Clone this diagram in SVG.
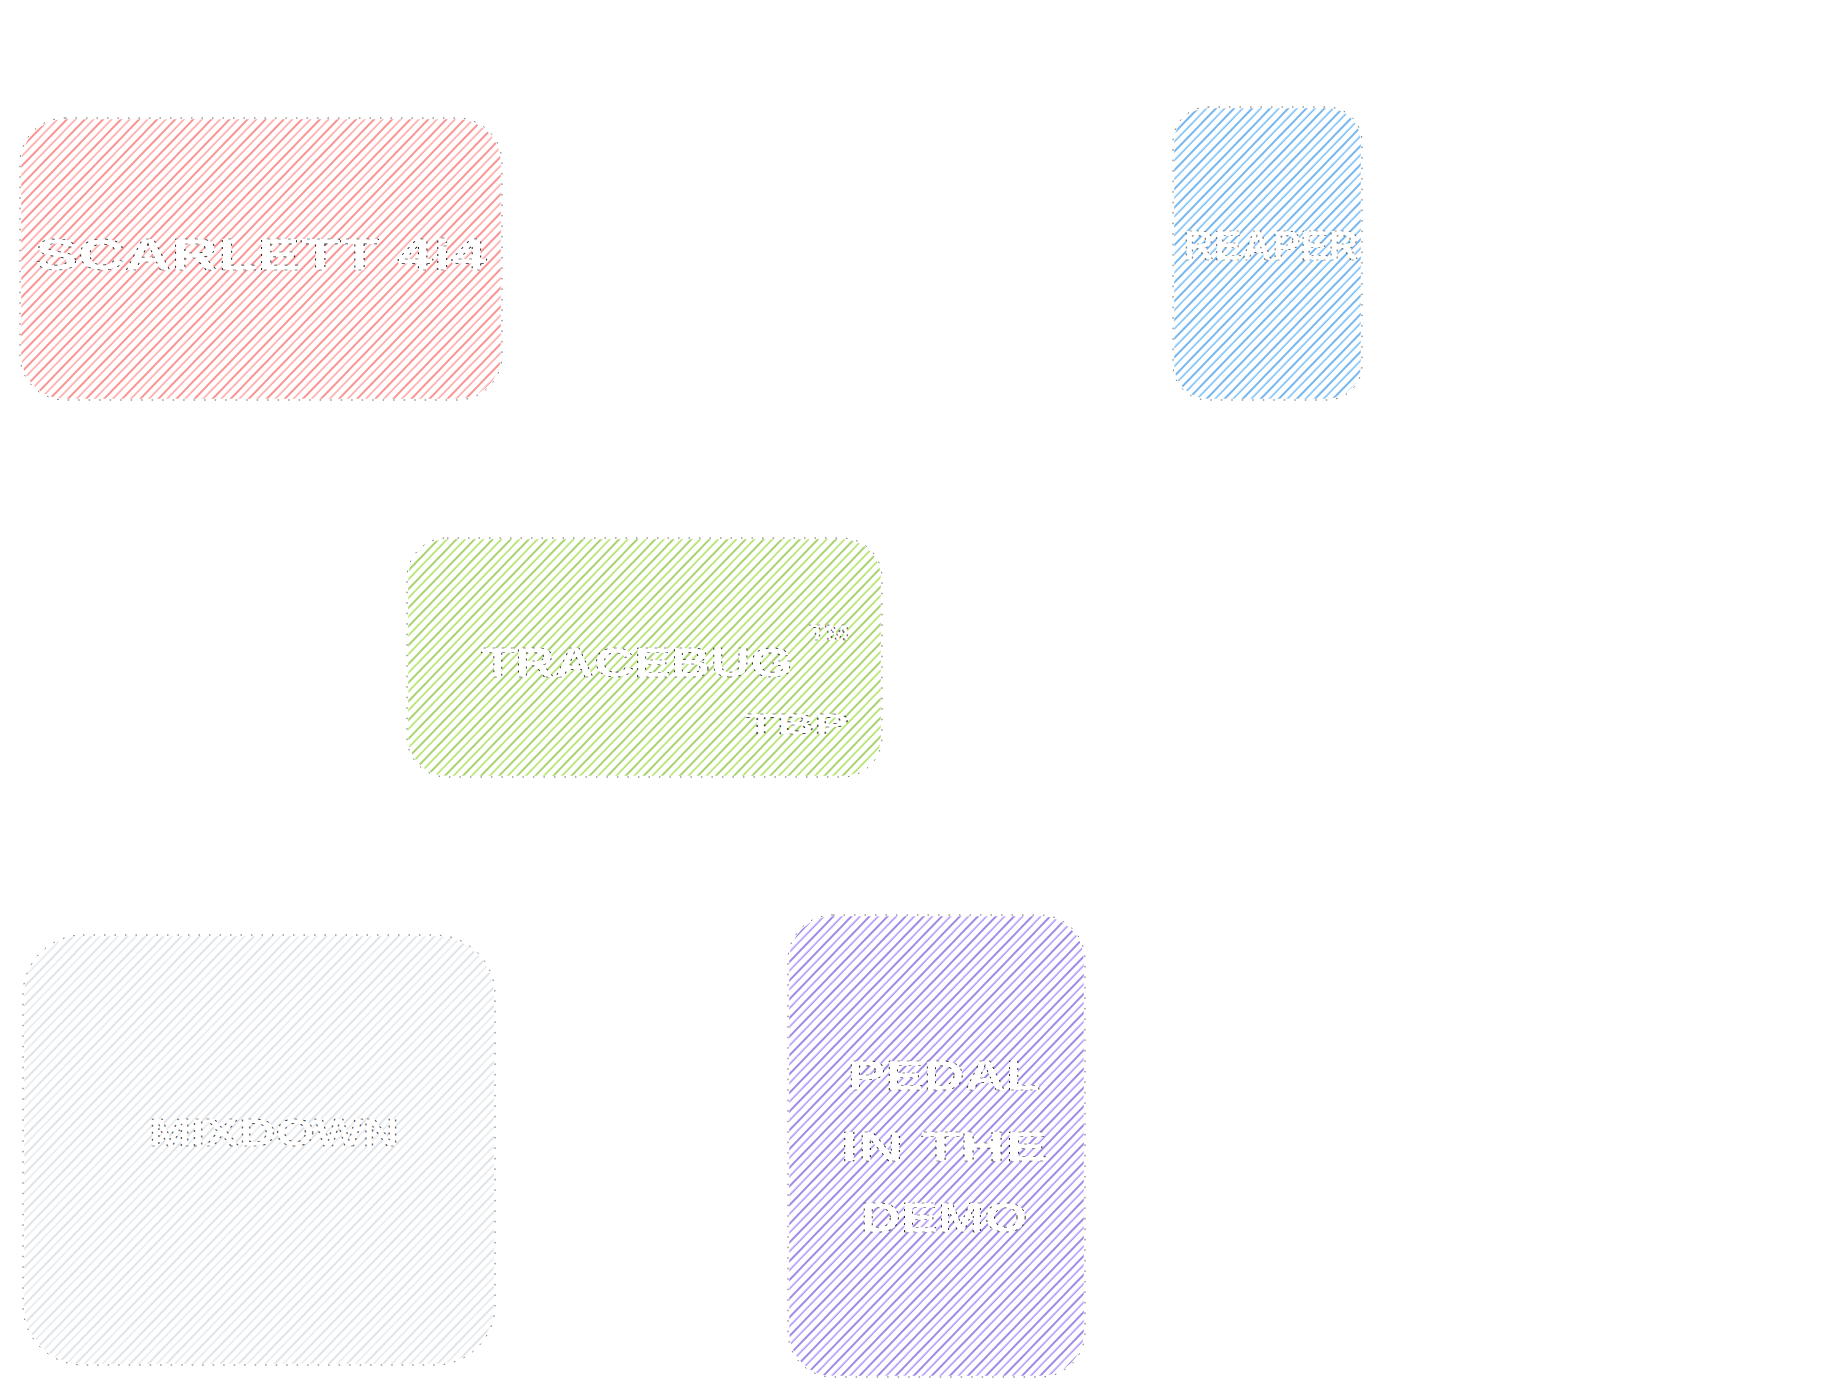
<svg xmlns="http://www.w3.org/2000/svg" width="1838" height="1395" viewBox="0 0 1838 1395">
  <defs>
    <!-- sketch-style hachure: thin strokes in two tones -->
    <pattern id="hatch-red" patternUnits="userSpaceOnUse" width="24" height="13" patternTransform="rotate(-46)">
      <path d="M0 1 H24" stroke="#fa5252" stroke-width="1.25"/>
      <path d="M0 7.2 H24" stroke="#ff8787" stroke-width="1.2"/>
    </pattern>
    <pattern id="hatch-blue" patternUnits="userSpaceOnUse" width="24" height="13" patternTransform="rotate(-46)">
      <path d="M0 1 H24" stroke="#228be6" stroke-width="1.25"/>
      <path d="M0 7.2 H24" stroke="#4dabf7" stroke-width="1.2"/>
    </pattern>
    <pattern id="hatch-green" patternUnits="userSpaceOnUse" width="24" height="13" patternTransform="rotate(-46)">
      <path d="M0 1 H24" stroke="#74b816" stroke-width="1.25"/>
      <path d="M0 7.2 H24" stroke="#94d82d" stroke-width="1.2"/>
    </pattern>
    <pattern id="hatch-gray" patternUnits="userSpaceOnUse" width="24" height="13" patternTransform="rotate(-46)">
      <path d="M0 1 H24" stroke="#ced4da" stroke-width="1.25"/>
      <path d="M0 7.2 H24" stroke="#dee2e6" stroke-width="1.2"/>
    </pattern>
    <pattern id="hatch-violet" patternUnits="userSpaceOnUse" width="24" height="13" patternTransform="rotate(-46)">
      <path d="M0 1 H24" stroke="#6741d9" stroke-width="1.25"/>
      <path d="M0 7.2 H24" stroke="#9775fa" stroke-width="1.2"/>
    </pattern>
  </defs>
  <style>
    .edge { fill: none; stroke: #ffffff; stroke-width: 2.5; }
    .edge-dots { fill: none; stroke: #222; stroke-width: 0.7; stroke-dasharray: 1.5 9; }
    .label { font-family: "Liberation Sans", "DejaVu Sans", sans-serif; font-weight: bold; fill: #ffffff; stroke: #222; stroke-width: 0.7; stroke-dasharray: 2 5; text-anchor: middle; }
  </style>

  <rect width="1838" height="1395" fill="#ffffff"/>

  <g id="connectors"/>

  <g id="node-scarlett">
    <rect x="20" y="118" width="482" height="282" rx="45" fill="url(#hatch-red)"/>
    <rect x="20" y="118" width="482" height="282" rx="45" class="edge"/>
    <rect x="20" y="118" width="482" height="282" rx="45" class="edge-dots"/>
    <text class="label" x="261" y="270" font-size="44" textLength="452" lengthAdjust="spacingAndGlyphs">SCARLETT 4i4</text>
  </g>

  <g id="node-reaper">
    <rect x="1173" y="107" width="189" height="293" rx="35" fill="url(#hatch-blue)"/>
    <rect x="1173" y="107" width="189" height="293" rx="35" class="edge"/>
    <rect x="1173" y="107" width="189" height="293" rx="35" class="edge-dots"/>
    <text class="label" x="1271" y="260" font-size="42" textLength="175" lengthAdjust="spacingAndGlyphs">REAPER</text>
  </g>

  <g id="node-tracebug">
    <rect x="407" y="538" width="475" height="239" rx="40" fill="url(#hatch-green)"/>
    <rect x="407" y="538" width="475" height="239" rx="40" class="edge"/>
    <rect x="407" y="538" width="475" height="239" rx="40" class="edge-dots"/>
    <text class="label" x="637" y="677" font-size="42" textLength="312" lengthAdjust="spacingAndGlyphs">TRACEBUG</text>
    <text class="label" x="829" y="640" font-size="22" textLength="40" lengthAdjust="spacingAndGlyphs">TM</text>
    <text class="label" x="797" y="734" font-size="30" textLength="104" lengthAdjust="spacingAndGlyphs">TBP</text>
  </g>

  <g id="node-mixdown">
    <rect x="23" y="935" width="472" height="430" rx="60" fill="url(#hatch-gray)"/>
    <rect x="23" y="935" width="472" height="430" rx="60" class="edge"/>
    <rect x="23" y="935" width="472" height="430" rx="60" class="edge-dots"/>
    <text class="label" x="274" y="1146" font-size="38" textLength="250" lengthAdjust="spacingAndGlyphs">MIXDOWN</text>
  </g>

  <g id="node-pedal">
    <rect x="788" y="915" width="297" height="462" rx="45" fill="url(#hatch-violet)"/>
    <rect x="788" y="915" width="297" height="462" rx="45" class="edge"/>
    <rect x="788" y="915" width="297" height="462" rx="45" class="edge-dots"/>
    <text class="label" x="944" y="1090" font-size="42" textLength="193" lengthAdjust="spacingAndGlyphs">PEDAL</text>
    <text class="label" x="944" y="1161" font-size="42" textLength="207" lengthAdjust="spacingAndGlyphs">IN THE</text>
    <text class="label" x="944" y="1232" font-size="42" textLength="167" lengthAdjust="spacingAndGlyphs">DEMO</text>
  </g>
</svg>
